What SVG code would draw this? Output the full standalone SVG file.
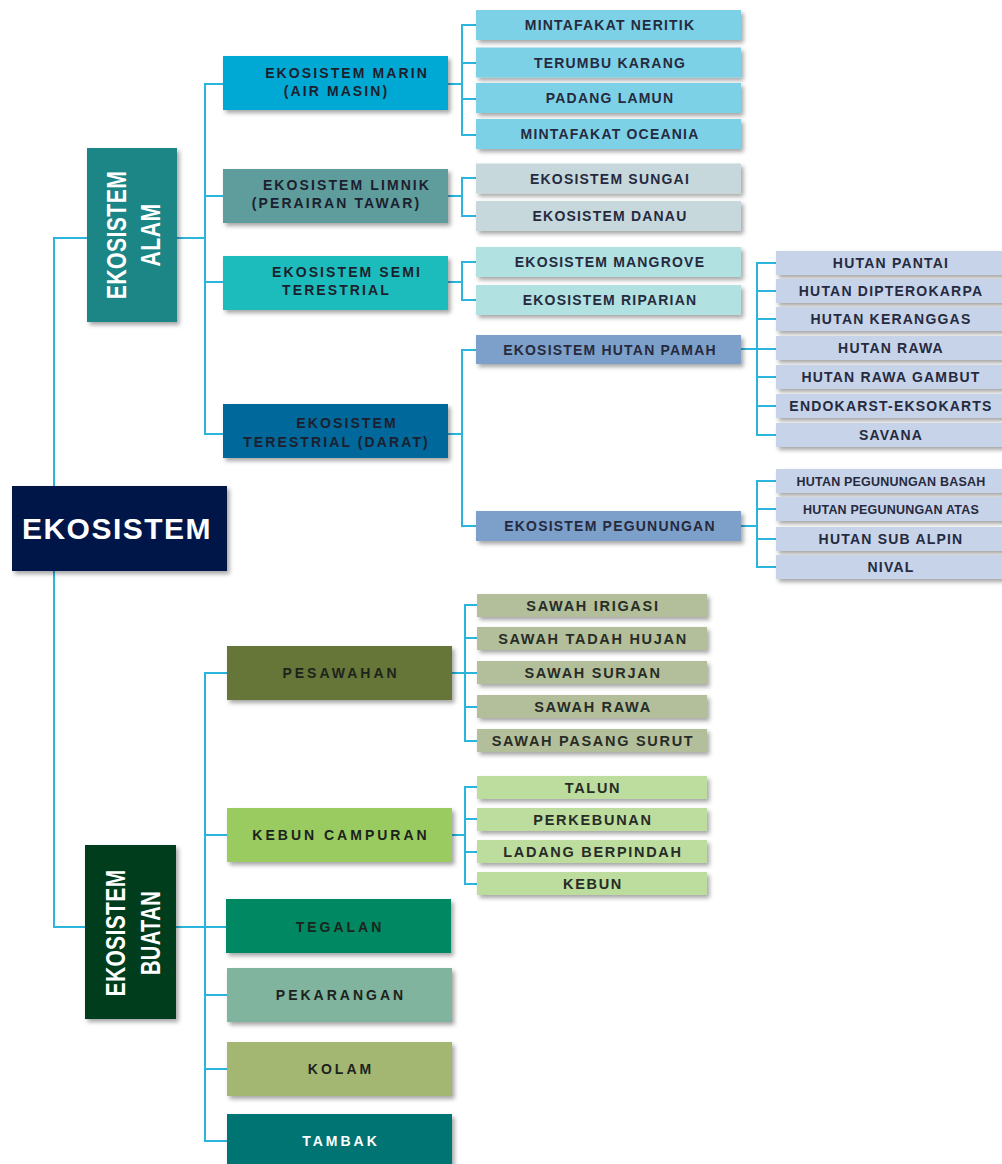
<svg xmlns="http://www.w3.org/2000/svg" width="1002" height="1164" viewBox="0 0 1002 1164">
  <style>
    .link { fill: none; stroke: #2bb4dc; stroke-width: 2; }
    .box { filter: url(#shadow); }
    text { font-family: "Liberation Sans", Arial, Helvetica, sans-serif; font-weight: bold; text-anchor: middle; }
    .root { fill: #ffffff; font-size: 30px; letter-spacing: 1.5px; }
    .vert { fill: #ffffff; font-size: 28px; letter-spacing: 0.5px; }
    .l2 { fill: #1c1f2e; font-size: 14px; letter-spacing: 2.1px; }
    .l3 { fill: #262a3e; font-size: 14px; letter-spacing: 1.2px; }
    .l3s { fill: #262a3e; font-size: 12.5px; letter-spacing: 0.2px; }
    .b2 { fill: #1c231c; font-size: 14px; letter-spacing: 3px; }
    .b2w { fill: #ffffff; font-size: 14px; letter-spacing: 3px; }
    .b3 { fill: #282c27; font-size: 14.5px; letter-spacing: 1.7px; }
  </style>
  <defs>
    <filter id="shadow" x="-10%" y="-20%" width="125%" height="160%">
      <feDropShadow dx="2.5" dy="3" stdDeviation="2" flood-color="#000000" flood-opacity="0.35"/>
    </filter>
  </defs>
  <rect width="1002" height="1164" fill="#ffffff"/>

  <!-- connector lines -->
  <g id="connectors">
    <!-- trunk from the root to both main branches -->
    <path class="link" d="M87,238 H54 V927 H85"/>
    <!-- natural ecosystems -->
    <path class="link" d="M177,238 H205 M223,84 H205 V434 H223 M205,196 H223 M205,282 H223"/>
    <path class="link" d="M448,84 H462 M477,25 H462 V135 H477 M462,63 H477 M462,99 H477"/>
    <path class="link" d="M448,196 H462 M477,178 H462 V216 H477"/>
    <path class="link" d="M448,282 H462 M477,262 H462 V300 H477"/>
    <path class="link" d="M448,434 H462 M477,350 H462 V526 H477"/>
    <path class="link" d="M741,349 H776 M776,263 H757 V435 H776 M757,291 H776 M757,319 H776 M757,377 H776 M757,406 H776"/>
    <path class="link" d="M741,526 H757 M776,481 H757 V567 H776 M757,509 H776 M757,539 H776"/>
    <!-- man-made ecosystems -->
    <path class="link" d="M176,927 H205 M227,673 H205 V1141 H227 M205,835 H227 M205,927 H227 M205,995 H227 M205,1069 H227"/>
    <path class="link" d="M452,673 H465 M477,605 H465 V741 H477 M465,638 H477 M465,673 H477 M465,707 H477"/>
    <path class="link" d="M452,835 H465 M477,787 H465 V884 H477 M465,819 H477 M465,852 H477"/>
  </g>

  <!-- root -->
  <g id="ekosistem">
    <rect class="box" x="12" y="486" width="215" height="85" fill="#02174a"/>
    <text class="root" x="117" y="539">EKOSISTEM</text>
  </g>

  <!-- natural ecosystems -->
  <g id="ekosistem-alam">
    <rect class="box" x="87" y="148" width="90" height="174" fill="#1b8585"/>
    <text class="vert" transform="translate(126 235) rotate(-90) scale(0.76 1)">EKOSISTEM</text>
    <text class="vert" transform="translate(160 235) rotate(-90) scale(0.76 1)">ALAM</text>
  </g>

  <g id="marin">
    <rect class="box" x="223" y="56" width="225" height="54" fill="#00a9d3"/>
    <text class="l2" x="347" y="78">EKOSISTEM MARIN</text>
    <text class="l2" x="336.5" y="95.5">(AIR MASIN)</text>
  </g>
  <g id="limnik">
    <rect class="box" x="223" y="169" width="225" height="54" fill="#5f9c9c"/>
    <text class="l2" x="347" y="189.5">EKOSISTEM LIMNIK</text>
    <text class="l2" x="336.5" y="207.5">(PERAIRAN TAWAR)</text>
  </g>
  <g id="semi-terestrial">
    <rect class="box" x="223" y="256" width="225" height="54" fill="#1bbcbc"/>
    <text class="l2" x="347" y="277">EKOSISTEM SEMI</text>
    <text class="l2" x="336.5" y="295">TERESTRIAL</text>
  </g>
  <g id="terestrial">
    <rect class="box" x="223" y="404" width="225" height="54" fill="#00679a"/>
    <text class="l2" x="347" y="428">EKOSISTEM</text>
    <text class="l2" x="336.5" y="447">TERESTRIAL (DARAT)</text>
  </g>

  <g id="mintafakat-neritik">
    <rect class="box" x="476" y="10" width="265" height="30" fill="#7dd1e7"/>
    <text class="l3" x="610" y="30">MINTAFAKAT NERITIK</text>
  </g>
  <g id="terumbu-karang">
    <rect class="box" x="476" y="47.5" width="265" height="30" fill="#7dd1e7"/>
    <text class="l3" x="610" y="67.5">TERUMBU KARANG</text>
  </g>
  <g id="padang-lamun">
    <rect class="box" x="476" y="83" width="265" height="30" fill="#7dd1e7"/>
    <text class="l3" x="610" y="103">PADANG LAMUN</text>
  </g>
  <g id="mintafakat-oceania">
    <rect class="box" x="476" y="119" width="265" height="30" fill="#7dd1e7"/>
    <text class="l3" x="610" y="139">MINTAFAKAT OCEANIA</text>
  </g>

  <g id="sungai">
    <rect class="box" x="476" y="163.5" width="265" height="30" fill="#c6d8dc"/>
    <text class="l3" x="610" y="183.5">EKOSISTEM SUNGAI</text>
  </g>
  <g id="danau">
    <rect class="box" x="476" y="201" width="265" height="30" fill="#c6d8dc"/>
    <text class="l3" x="610" y="221">EKOSISTEM DANAU</text>
  </g>

  <g id="mangrove">
    <rect class="box" x="476" y="247" width="265" height="30" fill="#b1e1e1"/>
    <text class="l3" x="610" y="267">EKOSISTEM MANGROVE</text>
  </g>
  <g id="riparian">
    <rect class="box" x="476" y="285" width="265" height="30" fill="#b1e1e1"/>
    <text class="l3" x="610" y="305">EKOSISTEM RIPARIAN</text>
  </g>

  <g id="hutan-pamah">
    <rect class="box" x="476" y="335" width="265" height="29" fill="#7ba0c9"/>
    <text class="l3" x="610" y="354.5">EKOSISTEM HUTAN PAMAH</text>
  </g>
  <g id="pegunungan">
    <rect class="box" x="476" y="511" width="265" height="30" fill="#7ba0c9"/>
    <text class="l3" x="610" y="531">EKOSISTEM PEGUNUNGAN</text>
  </g>

  <g id="hutan-pantai">
    <rect class="box" x="776" y="251" width="240" height="24" fill="#c6d3e8"/>
    <text class="l3" x="891" y="268">HUTAN PANTAI</text>
  </g>
  <g id="hutan-dipterokarpa">
    <rect class="box" x="776" y="279" width="240" height="24" fill="#c6d3e8"/>
    <text class="l3" x="891" y="296">HUTAN DIPTEROKARPA</text>
  </g>
  <g id="hutan-keranggas">
    <rect class="box" x="776" y="307" width="240" height="24" fill="#c6d3e8"/>
    <text class="l3" x="891" y="324">HUTAN KERANGGAS</text>
  </g>
  <g id="hutan-rawa">
    <rect class="box" x="776" y="336" width="240" height="24" fill="#c6d3e8"/>
    <text class="l3" x="891" y="353">HUTAN RAWA</text>
  </g>
  <g id="hutan-rawa-gambut">
    <rect class="box" x="776" y="365" width="240" height="24" fill="#c6d3e8"/>
    <text class="l3" x="891" y="382">HUTAN RAWA GAMBUT</text>
  </g>
  <g id="endokarst-eksokarts">
    <rect class="box" x="776" y="394" width="240" height="24" fill="#c6d3e8"/>
    <text class="l3" x="891" y="411">ENDOKARST-EKSOKARTS</text>
  </g>
  <g id="savana">
    <rect class="box" x="776" y="423" width="240" height="24" fill="#c6d3e8"/>
    <text class="l3" x="891" y="440">SAVANA</text>
  </g>

  <g id="hutan-pegunungan-basah">
    <rect class="box" x="776" y="469" width="240" height="24" fill="#c6d3e8"/>
    <text class="l3s" x="891" y="485.5">HUTAN PEGUNUNGAN BASAH</text>
  </g>
  <g id="hutan-pegunungan-atas">
    <rect class="box" x="776" y="497" width="240" height="24" fill="#c6d3e8"/>
    <text class="l3s" x="891" y="513.5">HUTAN PEGUNUNGAN ATAS</text>
  </g>
  <g id="hutan-sub-alpin">
    <rect class="box" x="776" y="527" width="240" height="24" fill="#c6d3e8"/>
    <text class="l3" x="891" y="544">HUTAN SUB ALPIN</text>
  </g>
  <g id="nival">
    <rect class="box" x="776" y="555" width="240" height="24" fill="#c6d3e8"/>
    <text class="l3" x="891" y="572">NIVAL</text>
  </g>

  <!-- man-made ecosystems -->
  <g id="ekosistem-buatan">
    <rect class="box" x="85" y="845" width="91" height="174" fill="#033d1b"/>
    <text class="vert" transform="translate(125 933) rotate(-90) scale(0.75 1)">EKOSISTEM</text>
    <text class="vert" transform="translate(160 933) rotate(-90) scale(0.72 1)">BUATAN</text>
  </g>

  <g id="pesawahan">
    <rect class="box" x="227" y="646" width="225" height="54" fill="#667537"/>
    <text class="b2" x="341" y="678">PESAWAHAN</text>
  </g>
  <g id="kebun-campuran">
    <rect class="box" x="227" y="808" width="225" height="54" fill="#99cb60"/>
    <text class="b2" x="341" y="840">KEBUN CAMPURAN</text>
  </g>
  <g id="tegalan">
    <rect class="box" x="226" y="899" width="225" height="54" fill="#018862"/>
    <text class="b2" x="340" y="932">TEGALAN</text>
  </g>
  <g id="pekarangan">
    <rect class="box" x="227" y="968" width="225" height="54" fill="#80b49e"/>
    <text class="b2" x="341" y="1000">PEKARANGAN</text>
  </g>
  <g id="kolam">
    <rect class="box" x="227" y="1042" width="225" height="54" fill="#a4b772"/>
    <text class="b2" x="341" y="1074">KOLAM</text>
  </g>
  <g id="tambak">
    <rect class="box" x="227" y="1114" width="225" height="60" fill="#007373"/>
    <text class="b2w" x="341" y="1146">TAMBAK</text>
  </g>

  <g id="sawah-irigasi">
    <rect class="box" x="477" y="594" width="230" height="23" fill="#b3bf9a"/>
    <text class="b3" x="593" y="610.5">SAWAH IRIGASI</text>
  </g>
  <g id="sawah-tadah-hujan">
    <rect class="box" x="477" y="627" width="230" height="23" fill="#b3bf9a"/>
    <text class="b3" x="593" y="643.5">SAWAH TADAH HUJAN</text>
  </g>
  <g id="sawah-surjan">
    <rect class="box" x="477" y="661" width="230" height="23" fill="#b3bf9a"/>
    <text class="b3" x="593" y="677.5">SAWAH SURJAN</text>
  </g>
  <g id="sawah-rawa">
    <rect class="box" x="477" y="695" width="230" height="23" fill="#b3bf9a"/>
    <text class="b3" x="593" y="711.5">SAWAH RAWA</text>
  </g>
  <g id="sawah-pasang-surut">
    <rect class="box" x="477" y="729" width="230" height="23" fill="#b3bf9a"/>
    <text class="b3" x="593" y="745.5">SAWAH PASANG SURUT</text>
  </g>

  <g id="talun">
    <rect class="box" x="477" y="776" width="230" height="23" fill="#bcdd9d"/>
    <text class="b3" x="593" y="792.5">TALUN</text>
  </g>
  <g id="perkebunan">
    <rect class="box" x="477" y="808" width="230" height="23" fill="#bcdd9d"/>
    <text class="b3" x="593" y="824.5">PERKEBUNAN</text>
  </g>
  <g id="ladang-berpindah">
    <rect class="box" x="477" y="840" width="230" height="23" fill="#bcdd9d"/>
    <text class="b3" x="593" y="856.5">LADANG BERPINDAH</text>
  </g>
  <g id="kebun">
    <rect class="box" x="477" y="872" width="230" height="23" fill="#bcdd9d"/>
    <text class="b3" x="593" y="888.5">KEBUN</text>
  </g>
</svg>
